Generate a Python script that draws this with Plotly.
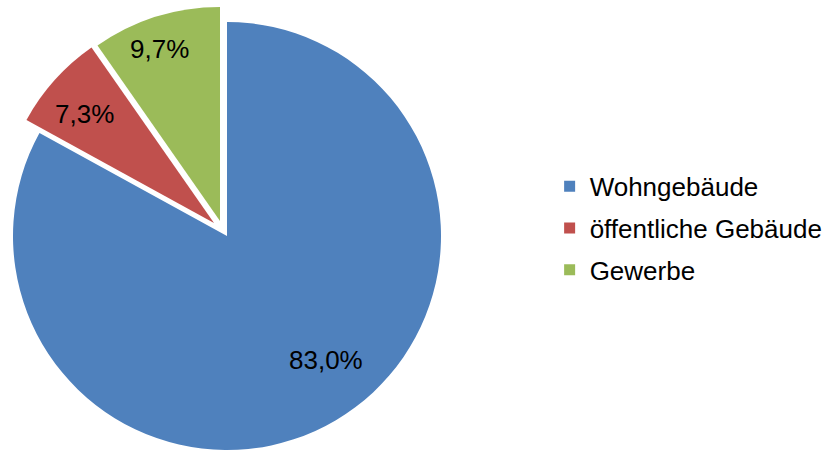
import math
import plotly.graph_objects as go

labels = ["Wohngebäude", "öffentliche Gebäude", "Gewerbe"]
values = [83.0, 7.3, 9.7]
colors = ["#4F81BD", "#C0504D", "#9BBB59"]

W, H = 829, 452
R = 214
FONT = "Liberation Sans, Arial"
# pie centre (px from left, px from top) per slice -> emulates Excel's exploded slices
centres = [(227, 236), (214, 223), (220, 221)]
# label placement: fraction of radius and angular nudge (deg) per slice
label_r = [0.74, 0.79, 0.85]
label_da = [-8, -2, -2]

fig = go.Figure()

total = sum(values)
start = 0.0
annotations = []
for i, (cx, cy) in enumerate(centres):
    slice_colors = [c if j == i else "rgba(0,0,0,0)" for j, c in enumerate(colors)]
    fig.add_trace(
        go.Pie(
            labels=labels,
            values=values,
            sort=False,
            direction="clockwise",
            rotation=0,
            marker=dict(colors=slice_colors, line=dict(width=0)),
            textinfo="none",
            hoverinfo="skip",
            showlegend=False,
            domain=dict(
                x=[(cx - R) / W, (cx + R) / W],
                y=[(H - cy - R) / H, (H - cy + R) / H],
            ),
        )
    )
    frac = values[i] / total
    mid = math.radians((start + frac / 2) * 360 + label_da[i])
    start += frac
    lx = cx + label_r[i] * R * math.sin(mid)
    ly = cy - label_r[i] * R * math.cos(mid)
    annotations.append(
        dict(
            x=lx / W,
            y=1 - ly / H,
            xref="paper",
            yref="paper",
            xanchor="center",
            yanchor="middle",
            text=f"{frac * 100:.1f}%".replace(".", ","),
            showarrow=False,
            font=dict(family=FONT, size=26, color="black"),
        )
    )

# legend entries
for i, (lab, col) in enumerate(zip(labels, colors)):
    fig.add_trace(
        go.Scatter(
            x=[None],
            y=[None],
            mode="markers",
            name=lab,
            legendgroup=f"g{i}",
            marker=dict(symbol="square", size=11, color=col),
        )
    )

fig.update_layout(
    width=W,
    height=H,
    margin=dict(l=0, r=0, t=0, b=0),
    paper_bgcolor="white",
    plot_bgcolor="white",
    xaxis=dict(visible=False),
    yaxis=dict(visible=False),
    font=dict(family=FONT, size=26, color="black"),
    annotations=annotations,
    legend=dict(
        x=0.663,
        y=0.495,
        xanchor="left",
        yanchor="middle",
        tracegroupgap=5,
        itemwidth=30,
        font=dict(size=26),
    ),
)

fig.write_html(
    "out.html",
    config={"displayModeBar": False},
    post_script="document.body.style.margin='0';",
)
